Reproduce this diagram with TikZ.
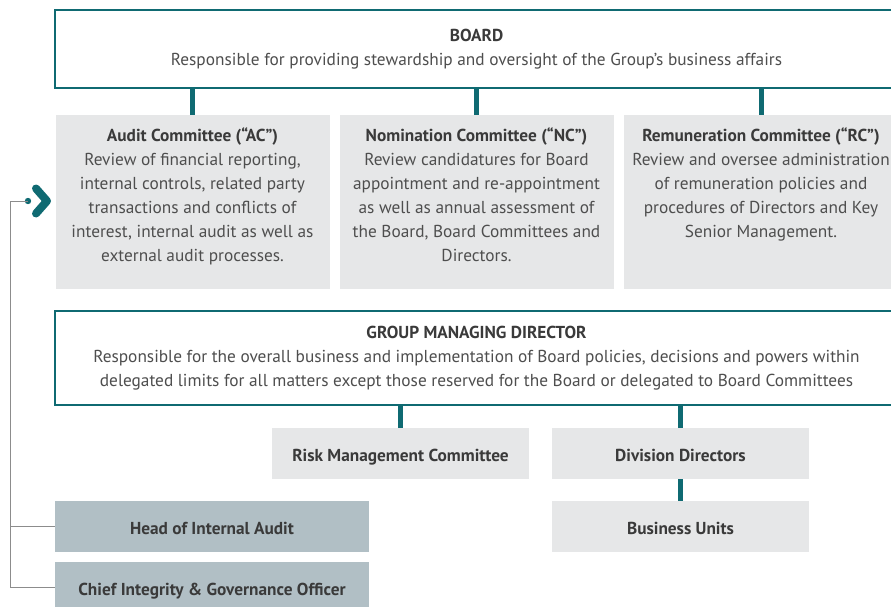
\documentclass[tikz,border=0pt]{standalone}
\usepackage{fontspec}
\setmainfont{PT Sans}
\usetikzlibrary{positioning}

\definecolor{govteal}{HTML}{0F6A72}
\definecolor{boxgrey}{HTML}{E6E7E8}
\definecolor{staffgrey}{HTML}{B1BFC5}
\definecolor{titlegrey}{HTML}{3A3A3A}
\definecolor{bodygrey}{HTML}{4E4E4E}
\definecolor{linegrey}{HTML}{8C8C8C}

% committee text, top aligned in its box
\newcommand{\cbody}[2]{\parbox[t][150pt][t]{270pt}{\centering{\bfseries\color{titlegrey}#1}\\#2}}

\begin{document}
\begin{tikzpicture}[x=1pt,y=-1pt,
  font=\fontsize{17.3}{24}\selectfont, text=bodygrey,
  headbox/.style={draw=govteal, line width=2pt, fill=white, minimum width=843pt, align=center, inner sep=0pt},
  cbox/.style={fill=boxgrey, anchor=north, inner xsep=2pt, inner ysep=12pt},
  unitbox/.style={fill=boxgrey, minimum width=257pt, minimum height=51pt, inner sep=0pt, text height=15.5pt, text depth=0pt, font=\fontsize{17.3}{24}\selectfont\bfseries, text=titlegrey},
  staffbox/.style={unitbox, fill=staffgrey, minimum width=314pt},
  link/.style={govteal, line width=5pt},
  tie/.style={linegrey, line width=1pt}]
\useasboundingbox (0,0) rectangle (891,607);

% board and committees
\node[headbox, minimum height=78pt] (board) at (476.5,49)
  {{\bfseries\color{titlegrey}BOARD}\\Responsible for providing stewardship and oversight of the Group’s business affairs};
\node[cbox] (ac) at (192.5,115) {\cbody{Audit Committee (“AC”)}{Review of financial reporting,\\internal controls, related party\\transactions and conflicts of\\interest, internal audit as well as\\external audit processes.}};
\node[cbox] (nc) at (476.5,115) {\cbody{Nomination Committee (“NC”)}{Review candidatures for Board\\appointment and re-appointment\\as well as annual assessment of\\the Board, Board Committees and\\Directors.}};
\node[cbox] (rc) at (761,115) {\cbody{Remuneration Committee (“RC”)}{Review and oversee administration\\of remuneration policies and\\procedures of Directors and Key\\Senior Management.}};
\draw[link] (board.south -| ac.north) -- (ac.north);
\draw[link] (board.south -| nc.north) -- (nc.north);
\draw[link] (board.south -| rc.north) -- (rc.north);

% management
\node[headbox, minimum height=94pt] (gmd) at (476.5,358)
  {{\bfseries\color{titlegrey}GROUP MANAGING DIRECTOR}\\Responsible for the overall business and implementation of Board policies, decisions and powers within\\delegated limits for all matters except those reserved for the Board or delegated to Board Committees};
\node[unitbox] (rmc) at (400.5,453.5) {Risk Management Committee};
\node[unitbox] (dd) at (680.5,453.5) {Division Directors};
\node[unitbox] (bu) at (680.5,526.5) {Business Units};
\draw[link] (gmd.south -| rmc.north) -- (rmc.north);
\draw[link] (gmd.south -| dd.north) -- (dd.north);
\draw[link] (dd.south) -- (bu.north);

% independent functions reporting to the AC
\node[staffbox] (hia) at (212,526.5) {Head of Internal Audit};
\node[staffbox] (cigo) at (212,587.5) {Chief Integrity \& Governance Officer};
\draw[govteal, line width=8pt, line cap=round, line join=round] (36,188.5) -- (47,201) -- (36,213.5);
\fill[govteal] (28,201) circle (3.2pt) coordinate (dot);
\coordinate (bend) at (10,201);
\draw[tie] (dot) -- (bend) |- (cigo.west);
\draw[tie] (bend |- hia.west) -- (hia.west);
\end{tikzpicture}
\end{document}
